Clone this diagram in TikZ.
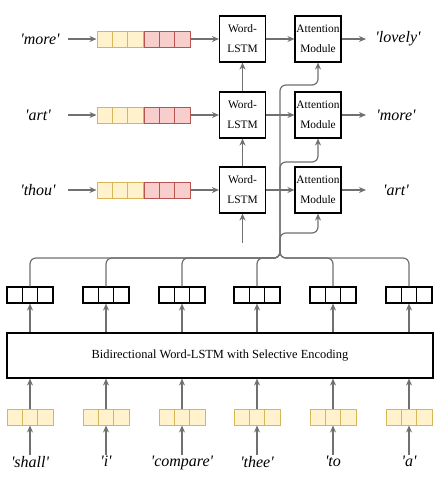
\documentclass[tikz,border=0pt]{standalone}
\usepackage{fontspec}
\setmainfont{Liberation Serif}[Ligatures=TeXOff]
\usepackage{xcolor}
\usetikzlibrary{arrows.meta,positioning,calc}

\definecolor{yfill}{HTML}{FFF2CC}
\definecolor{ybord}{HTML}{D6B656}
\definecolor{rfill}{HTML}{F8CECC}
\definecolor{rbord}{HTML}{B85450}
\definecolor{linkgray}{HTML}{707070}

\begin{document}
\begin{tikzpicture}[
    x=1pt, y=-1pt,
    cells/.style={path picture={
        \foreach \f in {0.3333,0.6667}
            \draw[#1, line width=1pt] ($(path picture bounding box.south west)!\f!(path picture bounding box.south east)$) -- ($(path picture bounding box.north west)!\f!(path picture bounding box.north east)$);}},
    yvec/.style={rectangle, draw=ybord, fill=yfill, line width=1pt, minimum width=46pt, minimum height=16pt, inner sep=0pt, cells=ybord},
    rvec/.style={rectangle, draw=rbord, fill=rfill, line width=1pt, minimum width=46pt, minimum height=16pt, inner sep=0pt, cells=rbord},
    kvec/.style={rectangle, draw=black, fill=white, line width=1.1pt, minimum width=46pt, minimum height=16pt, inner sep=0pt, cells=black},
    block/.style={rectangle, draw=black, line width=1.1pt, minimum width=46pt, minimum height=46pt, inner sep=0pt, align=center, font=\fontsize{11.4}{20}\selectfont},
    word/.style={font=\fontsize{16}{18}\selectfont\itshape, inner sep=1pt},
    arrow/.style={-{Stealth[length=7pt, width=6pt]}, line width=1.2pt, linkgray},
    link/.style={line width=1.2pt, linkgray, rounded corners=6pt}
]
\useasboundingbox (0,0) rectangle (437,480);

% DECODER: three time steps
\node[word] (in1) at (40,39) {'more'};
\node[word] (in2) at (38,115) {'art'};
\node[word] (in3) at (38,190) {'thou'};
\coordinate (s1) at (68,39);
\coordinate (s2) at (68,115);
\coordinate (s3) at (68,190);
\node[yvec] (my1) at (120,39) {};
\node[rvec, right=0pt of my1] (mr1) {};
\node[yvec] (my2) at (120,115) {};
\node[rvec, right=0pt of my2] (mr2) {};
\node[yvec] (my3) at (120,190) {};
\node[rvec, right=0pt of my3] (mr3) {};
\node[block] (lstm1) at (242.5,39) {Word-\\LSTM};
\node[block] (lstm2) at (242.5,115) {Word-\\LSTM};
\node[block] (lstm3) at (242.5,190) {Word-\\LSTM};
\node[block] (att1) at (318,39) {Attention\\Module};
\node[block] (att2) at (318,115) {Attention\\Module};
\node[block] (att3) at (318,190) {Attention\\Module};
\coordinate (o1) at (366,39);
\coordinate (o2) at (366,115);
\coordinate (o3) at (366,190);
\node[word] (out1) at (398,39) {'lovely'};
\node[word] (out2) at (396,115) {'more'};
\node[word] (out3) at (396,190) {'art'};
\coordinate (st) at (242.5,243);

\draw[arrow] (s1) -- (my1);
\draw[arrow] (s2) -- (my2);
\draw[arrow] (s3) -- (my3);
\draw[arrow] (mr1) -- (lstm1);
\draw[arrow] (mr2) -- (lstm2);
\draw[arrow] (mr3) -- (lstm3);
\draw[arrow] (lstm1) -- (att1);
\draw[arrow] (lstm2) -- (att2);
\draw[arrow] (lstm3) -- (att3);
\draw[arrow] (att1) -- (o1);
\draw[arrow] (att2) -- (o2);
\draw[arrow] (att3) -- (o3);
\draw[arrow] (st) -- (lstm3);
\draw[arrow] (lstm3) -- (lstm2);
\draw[arrow] (lstm2) -- (lstm1);

% ENCODER
\node[block, minimum width=426pt, minimum height=45pt, font=\fontsize{12.4}{14}\selectfont] (bilstm) at (220,355.5) {Bidirectional Word-LSTM with Selective Encoding};
\node[kvec] (enc1) at (30,295) {};
\node[kvec] (enc2) at (106,295) {};
\node[kvec] (enc3) at (182,295) {};
\node[kvec] (enc4) at (257,295) {};
\node[kvec] (enc5) at (333,295) {};
\node[kvec] (enc6) at (409,295) {};
\node[yvec] (emb1) at (30,417) {};
\node[yvec] (emb2) at (106,417) {};
\node[yvec] (emb3) at (182,417) {};
\node[yvec] (emb4) at (257,417) {};
\node[yvec] (emb5) at (333,417) {};
\node[yvec] (emb6) at (409,417) {};
\node[word, anchor=north] (w1) at (30,455) {'shall'};
\node[word, anchor=north] (w2) at (106,455) {'i'};
\node[word, anchor=north] (w3) at (182,455) {'compare'};
\node[word, anchor=north] (w4) at (257,455) {'thee'};
\node[word, anchor=north] (w5) at (333,455) {'to};
\node[word, anchor=north] (w6) at (409,455) {'a'};

\foreach \i in {1,...,6} {
    \draw[arrow] (w\i) -- (emb\i);
    \draw[arrow] (emb\i) -- (emb\i.north |- bilstm.south);
    \draw[arrow] (enc\i.south |- bilstm.north) -- (enc\i);
}

% context links to the attention modules
\coordinate (hub) at (280,258);
\coordinate (trunk) at (280,250);
\coordinate (j1) at (280,85);
\coordinate (j2) at (280,162);
\coordinate (j3) at (280,233);
\foreach \i in {1,...,6}
    \draw[link] (enc\i.north) |- (hub) -- (trunk);
\draw[arrow, rounded corners=6pt] (trunk) -- (j1) -| (att1);
\draw[arrow, rounded corners=6pt] (trunk) -- (j2) -| (att2);
\draw[arrow, rounded corners=6pt] (trunk) -- (j3) -| (att3);
\end{tikzpicture}
\end{document}
